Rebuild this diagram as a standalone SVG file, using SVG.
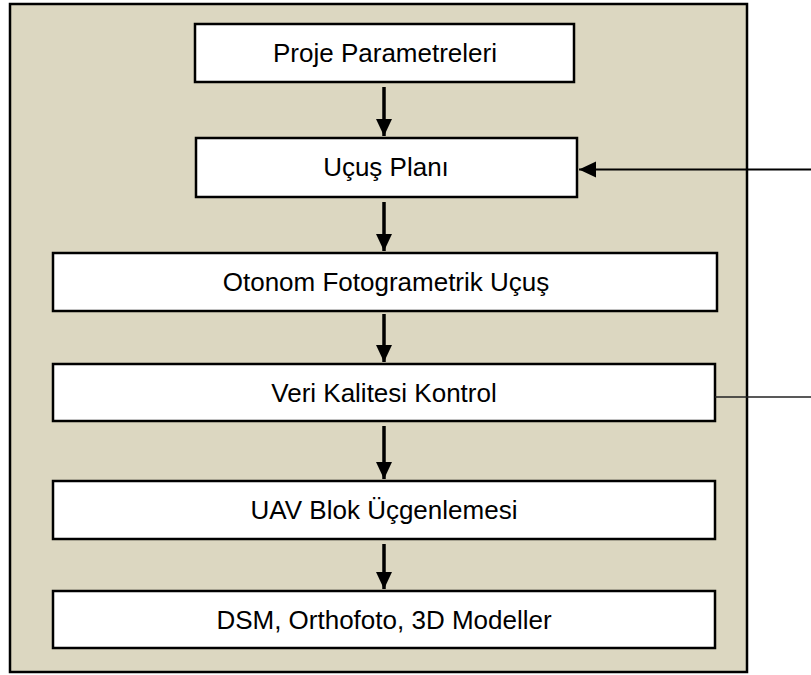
<svg xmlns="http://www.w3.org/2000/svg" width="811" height="675" viewBox="0 0 811 675">
<defs>
<style>
.box{fill:#ffffff;stroke:#000;stroke-width:2.5}
.lbl{font-family:"Liberation Sans",Arial,sans-serif;font-size:26px;fill:#000;text-anchor:middle}
.v{stroke:#000;stroke-width:3.5;fill:none}
</style>
<marker id="ah" markerUnits="userSpaceOnUse" markerWidth="18" markerHeight="18" viewBox="0 0 18 18" refX="17" refY="9" orient="auto">
<path d="M0,1 L17,9 L0,17 Z" fill="#000"/>
</marker>
</defs>
<rect width="811" height="675" fill="#ffffff"/>
<rect id="frame" x="10" y="4" width="737" height="668" fill="#DCD7C1" stroke="#000" stroke-width="2.5"/>
<g id="n1"><rect class="box" x="195" y="24" width="379" height="58"/><text class="lbl" x="385" y="62">Proje Parametreleri</text></g>
<g id="n2"><rect class="box" x="196" y="138" width="381" height="59"/><text class="lbl" x="386" y="176">Uçuş Planı</text></g>
<g id="n3"><rect class="box" x="53" y="253" width="664" height="58"/><text class="lbl" x="386" y="291">Otonom Fotogrametrik Uçuş</text></g>
<g id="n4"><rect class="box" x="53" y="364" width="662" height="57"/><text class="lbl" x="384" y="402">Veri Kalitesi Kontrol</text></g>
<g id="n5"><rect class="box" x="53" y="481" width="662" height="58"/><text class="lbl" x="384" y="519">UAV Blok Üçgenlemesi</text></g>
<g id="n6"><rect class="box" x="53" y="591" width="662" height="57"/><text class="lbl" x="384" y="629">DSM, Orthofoto, 3D Modeller</text></g>
<g id="connectors">
<line class="v" x1="384" y1="87" x2="384" y2="136" marker-end="url(#ah)"/>
<line class="v" x1="384" y1="202" x2="384" y2="251" marker-end="url(#ah)"/>
<line class="v" x1="384" y1="314" x2="384" y2="362" marker-end="url(#ah)"/>
<line class="v" x1="384" y1="426" x2="384" y2="479" marker-end="url(#ah)"/>
<line class="v" x1="384" y1="544" x2="384" y2="589" marker-end="url(#ah)"/>
<line x1="811" y1="169.5" x2="579" y2="169.5" stroke="#000" stroke-width="2.2" marker-end="url(#ah)"/>
<line x1="715" y1="397" x2="811" y2="397" stroke="#222" stroke-width="1.5"/>
</g>
</svg>
